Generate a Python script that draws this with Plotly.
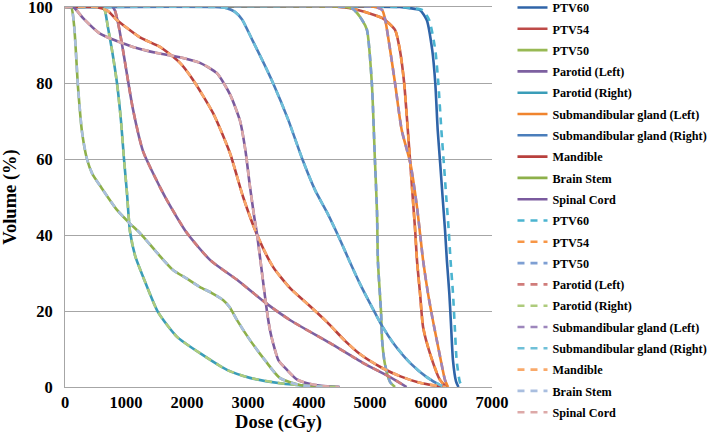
import plotly.graph_objects as go

# ---------------- data (dose in cGy, volume in %) ----------------
legend_names = ["PTV60", "PTV54", "PTV50", "Parotid (Left)", "Parotid (Right)",
                "Submandibular gland (Left)", "Submandibular gland (Right)",
                "Mandible", "Brain Stem", "Spinal Cord"]

x_ticks = [0, 1000, 2000, 3000, 4000, 5000, 6000, 7000]
y_ticks = [0, 20, 40, 60, 80, 100]

# Plan A (solid)
ptv60_dose = [0, 5490, 5650, 5820, 5930, 6020, 6070, 6110, 6150, 6190, 6230, 6260, 6300, 6330, 6360, 6410, 6450]
ptv60_vol = [100, 100, 99.7, 99.2, 96.6, 88.7, 80, 67.6, 59, 50, 41.3, 33.4, 24.7, 15.8, 7.1, 1.5, 0]
ptv54_dose = [0, 4510, 4800, 5210, 5410, 5490, 5560, 5620, 5660, 5700, 5740, 5770, 5820, 5870, 5980, 6150, 6260]
ptv54_vol = [100, 100, 99.2, 97, 94, 88.7, 80, 67.6, 59, 50, 41.3, 33.4, 24.7, 15.8, 9, 1.8, 0]
ptv50_dose = [0, 4590, 4720, 4870, 4950, 5030, 5080, 5115, 5130, 5180, 5200, 5245, 5330, 5410]
ptv50_vol = [100, 100, 99.5, 96.6, 94, 80, 60, 46, 33, 20, 12, 6, 1.3, 0]
parl_dose = [0, 780, 820, 880, 950, 1115, 1280, 1557, 1670, 2000, 2380, 2820, 3300, 3700, 4340, 4890, 5330, 5600]
parl_vol = [100, 100, 99, 95, 88.7, 73, 62, 52.6, 49.2, 40.5, 33.4, 28.2, 22, 17.5, 11.6, 6.3, 2.6, 0]
parr_dose = [0, 620, 656, 700, 770, 852, 918, 967, 1016, 1065, 1150, 1280, 1525, 1836, 2213, 2656, 3033, 3525, 4000, 4500]
parr_vol = [100, 100, 99, 95, 88.7, 80, 70, 60, 51, 41, 34.5, 29, 19.7, 13.2, 8.9, 4.5, 2.4, 1, 0.3, 0]
subl_dose = [0, 5080, 5200, 5250, 5330, 5410, 5520, 5660, 5770, 5870, 5950, 6030, 6150, 6230, 6280]
subl_vol = [100, 100, 99.2, 96.6, 88.7, 80, 67.6, 59, 47.4, 33.4, 24.7, 17.6, 7.9, 1.8, 0]
subr_dose = [0, 2450, 2650, 2780, 2900, 3080, 3250, 3410, 3660, 3890, 4100, 4300, 4510, 4670, 4840, 5000, 5200, 5380, 5660, 5930, 6150, 6230]
subr_vol = [100, 100, 99.7, 98.8, 96.8, 91, 85.5, 80, 70.3, 60, 51.8, 45.8, 38.7, 32.9, 27, 22, 16, 11.6, 6.3, 2.6, 0.5, 0]
mand_dose = [0, 500, 700, 850, 1230, 1557, 1885, 2100, 2430, 2705, 2920, 3150, 3410, 3690, 4000, 4300, 4600, 4840, 5200, 5500, 5800, 6100, 6250]
mand_vol = [100, 100, 99, 96.6, 92, 89.5, 85.3, 80.8, 72, 61.5, 50, 40, 31.6, 26, 21.5, 17, 12, 8.6, 5, 2.8, 1.2, 0.3, 0]
brain_dose = [0, 100, 150, 213, 280, 360, 450, 574, 852, 1065, 1230, 1500, 1770, 2000, 2213, 2400, 2590, 2700, 2820, 3030, 3280, 3520, 3850, 4300]
brain_vol = [100, 100, 95, 79, 67, 60, 56, 53, 46.6, 43, 40.5, 35.5, 30.8, 28.5, 26.3, 24.8, 22.9, 21, 17.6, 12.4, 7, 2.4, 0.5, 0]
cord_dose = [0, 135, 300, 574, 1115, 1508, 1885, 2213, 2490, 2705, 2870, 2960, 3030, 3100, 3150, 3250, 3310, 3360, 3410, 3500, 3640, 3800, 3970, 4200, 4500]
cord_vol = [100, 100, 97, 93, 89.5, 87.9, 86.8, 85.3, 82.6, 77, 70, 62, 53, 45, 40, 27.4, 20, 15, 11.6, 7, 4.5, 2, 1, 0.3, 0]

# Plan B (dashed)
ptv60b_dose = [0, 5520, 5680, 5860, 5970, 6070, 6120, 6170, 6210, 6250, 6290, 6320, 6360, 6390, 6420, 6470, 6510]
ptv60b_vol = [100, 100, 99.7, 99.2, 96.6, 88.7, 80, 67.6, 59, 50, 41.3, 33.4, 24.7, 15.8, 7.1, 1.5, 0]
ptv54b_dose = [0, 4510, 4800, 5210, 5410, 5490, 5560, 5620, 5660, 5700, 5740, 5770, 5820, 5870, 5980, 6150, 6260]
ptv54b_vol = [100, 100, 99.2, 97, 94, 88.7, 80, 67.6, 59, 50, 41.3, 33.4, 24.7, 15.8, 9, 1.8, 0]
ptv50b_dose = [0, 4590, 4720, 4870, 4950, 5030, 5080, 5115, 5130, 5180, 5200, 5245, 5330, 5410]
ptv50b_vol = [100, 100, 99.5, 96.6, 94, 80, 60, 46, 33, 20, 12, 6, 1.3, 0]
parlb_dose = [0, 780, 820, 880, 950, 1115, 1280, 1557, 1670, 2000, 2380, 2820, 3300, 3700, 4340, 4890, 5330, 5600]
parlb_vol = [100, 100, 99, 95, 88.7, 73, 62, 52.6, 49.2, 40.5, 33.4, 28.2, 22, 17.5, 11.6, 6.3, 2.6, 0]
parrb_dose = [0, 620, 656, 700, 770, 852, 918, 967, 1016, 1065, 1150, 1280, 1525, 1836, 2213, 2656, 3033, 3525, 4000, 4500]
parrb_vol = [100, 100, 99, 95, 88.7, 80, 70, 60, 51, 41, 34.5, 29, 19.7, 13.2, 8.9, 4.5, 2.4, 1, 0.3, 0]
sublb_dose = [0, 5080, 5200, 5250, 5330, 5410, 5520, 5660, 5770, 5870, 5950, 6030, 6150, 6230, 6280]
sublb_vol = [100, 100, 99.2, 96.6, 88.7, 80, 67.6, 59, 47.4, 33.4, 24.7, 17.6, 7.9, 1.8, 0]
subrb_dose = [0, 2450, 2650, 2780, 2900, 3080, 3250, 3410, 3660, 3890, 4100, 4300, 4510, 4670, 4840, 5000, 5200, 5380, 5660, 5930, 6150, 6230]
subrb_vol = [100, 100, 99.7, 98.8, 96.8, 91, 85.5, 80, 70.3, 60, 51.8, 45.8, 38.7, 32.9, 27, 22, 16, 11.6, 6.3, 2.6, 0.5, 0]
mandb_dose = [0, 500, 700, 850, 1230, 1557, 1885, 2100, 2430, 2705, 2920, 3150, 3410, 3690, 4000, 4300, 4600, 4840, 5200, 5500, 5800, 6100, 6250]
mandb_vol = [100, 100, 99, 96.6, 92, 89.5, 85.3, 80.8, 72, 61.5, 50, 40, 31.6, 26, 21.5, 17, 12, 8.6, 5, 2.8, 1.2, 0.3, 0]
brainb_dose = [0, 100, 150, 213, 280, 360, 450, 574, 852, 1065, 1230, 1500, 1770, 2000, 2213, 2400, 2590, 2700, 2820, 3030, 3280, 3520, 3850, 4300]
brainb_vol = [100, 100, 95, 79, 67, 60, 56, 53, 46.6, 43, 40.5, 35.5, 30.8, 28.5, 26.3, 24.8, 22.9, 21, 17.6, 12.4, 7, 2.4, 0.5, 0]
cordb_dose = [0, 135, 300, 574, 1115, 1508, 1885, 2213, 2490, 2705, 2870, 2960, 3030, 3100, 3150, 3250, 3310, 3360, 3410, 3500, 3640, 3800, 3970, 4200, 4500]
cordb_vol = [100, 100, 97, 93, 89.5, 87.9, 86.8, 85.3, 82.6, 77, 70, 62, 53, 45, 40, 27.4, 20, 15, 11.6, 7, 4.5, 2, 1, 0.3, 0]

solid_colors = ["#2F64A8", "#BE4B48", "#98B954", "#7D60A0", "#3A9DB8",
                "#F0842E", "#4A7EBB", "#B8403D", "#8DB04A", "#7A5A9E"]
dash_colors = ["#4BB4D0", "#F79646", "#7E9FD3", "#D07C7A", "#AECB7C",
               "#9D86BC", "#6FC0D8", "#F9A96A", "#A9BEDF", "#DDA9A8"]

plan_a = [(ptv60_dose, ptv60_vol), (ptv54_dose, ptv54_vol), (ptv50_dose, ptv50_vol),
          (parl_dose, parl_vol), (parr_dose, parr_vol), (subl_dose, subl_vol),
          (subr_dose, subr_vol), (mand_dose, mand_vol), (brain_dose, brain_vol),
          (cord_dose, cord_vol)]
plan_b = [(ptv60b_dose, ptv60b_vol), (ptv54b_dose, ptv54b_vol), (ptv50b_dose, ptv50b_vol),
          (parlb_dose, parlb_vol), (parrb_dose, parrb_vol), (sublb_dose, sublb_vol),
          (subrb_dose, subrb_vol), (mandb_dose, mandb_vol), (brainb_dose, brainb_vol),
          (cordb_dose, cordb_vol)]

FONT = "Liberation Serif"

fig = go.Figure()
k = 0
for name, (xs, ys), col in zip(legend_names, plan_a, solid_colors):
    fig.add_trace(go.Scatter(x=xs, y=ys, mode="lines", name=name,
                             legendgroup=f"g{k}",
                             line=dict(color=col, width=2.6, shape="spline", smoothing=0.6)))
    k += 1
for name, (xs, ys), col in zip(legend_names, plan_b, dash_colors):
    fig.add_trace(go.Scatter(x=xs, y=ys, mode="lines", name=name,
                             legendgroup=f"g{k}",
                             line=dict(color=col, width=2.6, dash="7px,6px",
                                       shape="spline", smoothing=0.6)))
    k += 1

fig.update_layout(
    width=709, height=434,
    margin=dict(l=65, r=217, t=7, b=47, autoexpand=False),
    plot_bgcolor="white", paper_bgcolor="white",
    font=dict(family=FONT, color="black"),
    showlegend=True,
    legend=dict(x=1.048, xanchor="left", y=1.0368, yanchor="top",
                font=dict(family=FONT, size=12.2, color="black", weight="bold"),
                tracegroupgap=2.3, itemwidth=30, bgcolor="rgba(0,0,0,0)",
                maxheight=600),
    xaxis=dict(range=[0, 7000], tickvals=x_ticks, ticktext=[str(v) for v in x_ticks],
               showgrid=False, showline=True, linecolor="#A6A6A6", linewidth=1,
               mirror=True,
               ticks="outside", ticklen=0, tickcolor="rgba(0,0,0,0)",
               ticklabeloverflow="allow",
               tickfont=dict(family=FONT, size=16.5, color="black", weight="bold"),
               title=dict(text="Dose (cGy)", standoff=1,
                          font=dict(family=FONT, size=18.5, color="black", weight="bold")),
               zeroline=False),
    yaxis=dict(range=[0, 100], tickvals=y_ticks, ticktext=[str(v) for v in y_ticks],
               showgrid=True, gridcolor="#A6A6A6", gridwidth=1,
               showline=True, linecolor="#A6A6A6", linewidth=1,
               ticks="outside", ticklen=8, tickcolor="rgba(0,0,0,0)",
               ticklabeloverflow="allow",
               tickfont=dict(family=FONT, size=16.5, color="black", weight="bold"),
               title=dict(text="Volume (%)", standoff=12,
                          font=dict(family=FONT, size=18.5, color="black", weight="bold")),
               zeroline=False),
)

fig.write_html("out.html", config={"displayModeBar": False},
               post_script="document.body.style.margin='0px';")
